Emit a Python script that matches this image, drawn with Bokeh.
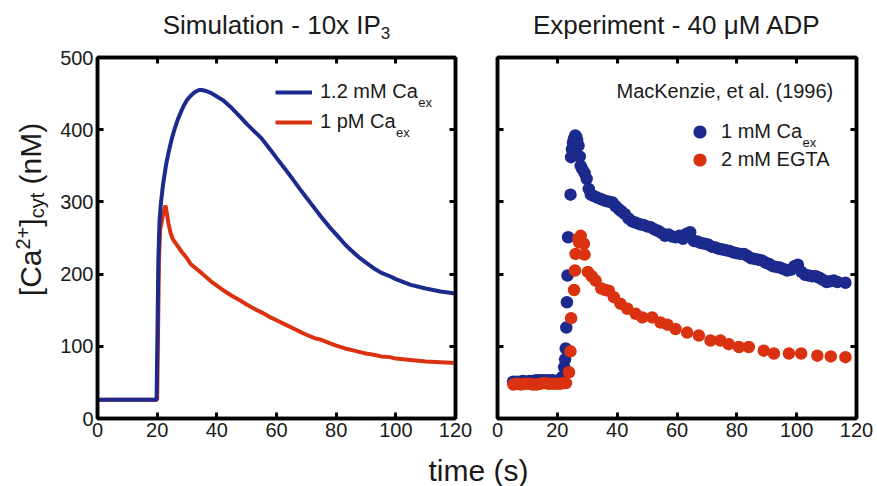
import math
from bokeh.plotting import figure
from bokeh.models import Range1d, LinearAxis, FixedTicker, Label, Legend, LegendItem
from bokeh.layouts import row, column
from bokeh.embed import file_html
from bokeh.resources import INLINE

# ---------------- data ----------------
sim_t_high = [0, 19.8, 20.1, 20.4, 20.8, 21.3, 22, 23, 24, 25, 26, 27, 28, 29, 30, 31, 32, 33, 34, 35,
              36, 38, 40, 42, 45, 48, 50, 53, 55, 58, 60, 63, 65, 68, 70, 73, 75, 78, 80, 83, 85, 88,
              90, 93, 95, 98, 100, 105, 110, 115, 120]
sim_ca_high = [26, 26, 120, 220, 275, 300, 325, 352, 372, 389, 403, 415, 425, 434, 441, 446, 450, 453, 455, 455,
               454, 451, 446, 441, 430, 417, 408, 396, 388, 372, 361, 345, 334, 317, 306, 290, 279, 264, 255, 241,
               233, 222, 216, 207, 202, 197, 193, 185, 180, 176, 173]

sim_t_low = [0, 20.0, 20.3, 20.6, 21.0, 22.0, 22.8, 23.3, 23.8, 24.5, 25.3, 26, 27, 28, 30, 31.2, 35, 38, 40,
             42, 45, 48, 50, 53, 55, 58, 60, 63, 65, 68, 70, 73, 75, 78, 80, 83, 85, 88, 90, 93, 95, 98,
             100, 105, 110, 115, 120]
sim_ca_low = [26, 26, 120, 220, 262, 283, 295, 283, 270, 257, 248, 244, 238, 232, 222, 214, 201, 190, 184,
              178, 170, 163, 158, 151, 147, 140, 136, 130, 126, 120, 116, 111, 109, 104, 101, 97, 95, 92, 90, 88, 86, 85,
              83, 81, 79, 78, 77]

exp_t_ca = [5.2, 6.3, 7.4, 8.5, 9.6, 10.7, 11.8, 12.9, 14.0, 15.1, 16.2, 17.3, 18.4, 19.5, 20.6, 21.5,
            22.3, 22.6, 22.8, 23.0, 23.2, 23.4, 23.6, 24.4, 24.6, 24.9, 25.2, 25.6, 26.0, 26.3, 26.6, 27.1,
            27.5, 27.8, 28.4, 29.1, 29.8, 30.5, 31.2, 32.2, 33.3, 34.5, 35.6, 36.6, 37.6, 38.5, 39.5, 40.5,
            41.4, 42.6, 43.8, 45.0, 46.3, 47.6, 48.8, 50.0, 51.2, 52.4, 53.6, 54.8, 56.0, 57.2, 58.4, 59.6,
            60.8, 62.0, 63.2, 64.4, 65.6, 66.8, 68.0, 69.2, 70.4, 71.6, 72.8, 74.0, 75.2, 76.4, 77.6, 78.8,
            80.0, 81.2, 82.4, 83.6, 84.8, 86.0, 87.2, 88.4, 89.6, 90.8, 92.0, 93.2, 94.4, 95.6, 96.8, 98.0,
            99.2, 100.4, 101.6, 102.8, 104.0, 105.2, 106.4, 107.6, 108.8, 110.0, 111.2, 112.4, 113.6, 116.3]
exp_ca = [51, 51, 51, 52, 51, 52, 52, 53, 53, 53, 53, 53, 53, 52, 53, 57,
          71, 82, 97, 126, 161, 198, 251, 310, 362, 373, 382, 388, 392, 390, 386, 378,
          363, 350, 345, 340, 332, 318, 310, 308, 306, 304, 302, 301, 300, 299, 294, 290,
          287, 283, 277, 273, 271, 269, 268, 266, 265, 262, 260, 257, 253, 255, 252, 251,
          253, 249, 256, 258, 246, 245, 243, 242, 241, 238, 237, 235, 234, 233, 232, 230,
          229, 228, 228, 225, 222, 221, 220, 219, 216, 214, 211, 210, 209, 207, 205, 206,
          211, 213, 203, 199, 198, 197, 197, 195, 192, 189, 190, 191, 189, 188]

exp_t_egta = [5.3, 6.6, 7.9, 9.2, 10.5, 11.8, 13.1, 14.4, 15.7, 17.0, 18.3, 19.6, 20.9, 22.2, 22.9,
              23.9, 24.4, 24.6, 25.6, 25.9, 26.1, 27.0, 27.3, 27.8, 28.9, 29.1, 30.2, 31.5, 32.8, 34.7,
              36.0, 37.2, 38.9, 41.1, 43.4, 46.2, 48.4, 51.7, 54.5, 56.8, 59.5, 63.4, 67.3, 71.2, 74.5,
              77.3, 80.7, 84.0, 89.0, 92.4, 97.4, 101.5, 106.9, 111.4, 116.3]
exp_egta = [47, 48, 47, 48, 48, 47, 47, 48, 49, 48, 48, 48, 48, 49, 49,
            64, 93, 139, 178, 205, 228, 249, 244, 253, 242, 227, 203, 197, 191, 180,
            178, 177, 168, 159, 152, 145, 140, 140, 133, 130, 124, 119, 115, 108, 108,
            103, 99, 99, 94, 90, 90, 90, 87, 86, 85]

x_ticks = [0, 20, 40, 60, 80, 100, 120]
y_ticks = [0, 100, 200, 300, 400, 500]

# ---------------- style / layout ----------------
BLUE = "#1b2a8c"
RED = "#da3210"
TEXT = "#1a1a1a"
FONT = "Liberation Sans"

TOP_H = 46            # title strip
BOT_H = 40            # x-label strip
ROW_H = 486 - TOP_H - BOT_H
FRAME_TOP = 57
FRAME_BOTTOM = 418
YS_W = 50             # y-label strip
P1_W = 426
P2_W = 877 - YS_W - P1_W
P1_FRAME_X = 97
P2_FRAME_X = 497

WID = {' ': 278, '(': 333, ')': 333, '+': 584, ',': 278, '-': 333, '.': 278, '[': 278, ']': 278,
       'A': 667, 'C': 722, 'D': 722, 'E': 667, 'G': 778, 'I': 278, 'K': 667, 'M': 833, 'P': 667,
       'S': 667, 'T': 611, 'a': 556, 'c': 500, 'e': 556, 'i': 222, 'l': 222, 'm': 833, 'n': 556,
       'o': 556, 'p': 556, 'r': 333, 's': 500, 't': 278, 'u': 556, 'x': 500, 'y': 500, 'z': 500,
       'μ': 576}
BASE_FIX = 0.27   # empirical baseline correction (fraction of font size)


def text_width(s, size):
    return sum(WID.get(c, 556) for c in s) / 1000.0 * size


def put_text(p, ox, ob, X, Y, text, size, angle=0.0, align="left"):
    """X, Y: page pixel position of the text anchor on its baseline.
    ox: page x of the frame's left edge, ob: page y of the frame's bottom edge."""
    fix = BASE_FIX * size
    if angle:
        X = X - fix
    else:
        Y = Y - fix
    p.add_layout(Label(x=X - ox, y=ob - Y, x_units="screen", y_units="screen", text=text,
                       text_font=FONT, text_font_size=f"{size}px", text_color=TEXT,
                       text_align=align, text_baseline="alphabetic", angle=angle))


def rich_h(p, ox, ob, segs, X, Y):
    total = sum(text_width(t, s) for t, s, _ in segs)
    x = X - total / 2
    for t, s, shift in segs:
        lead = len(t) - len(t.lstrip(' '))
        x += text_width(' ' * lead, s)
        t = t.lstrip(' ')
        put_text(p, ox, ob, x, Y - shift, t, s)
        x += text_width(t, s)


def rich_v(p, ox, ob, segs, X, Yc):
    total = sum(text_width(t, s) for t, s, _ in segs)
    y = Yc + total / 2
    for t, s, shift in segs:
        lead = len(t) - len(t.lstrip(' '))
        y -= text_width(' ' * lead, s)
        t = t.lstrip(' ')
        put_text(p, ox, ob, X - shift, y, t, s, angle=math.pi / 2)
        y -= text_width(t, s)


def strip(width, height):
    s = figure(width=width, height=height, x_range=Range1d(0, 1), y_range=Range1d(0, 1),
               output_backend="svg", toolbar_location=None, title=None,
               x_axis_type=None, y_axis_type=None, min_border=0)
    s.outline_line_color = None
    return s


def make_panel(width, left, right, ylabels):
    p = figure(width=width, height=ROW_H, x_range=Range1d(0, 120), y_range=Range1d(0, 500),
               output_backend="svg", toolbar_location=None, title=None,
               x_axis_type=None, y_axis_type=None,
               min_border_left=left, min_border_right=right,
               min_border_top=FRAME_TOP - TOP_H,
               min_border_bottom=TOP_H + ROW_H - FRAME_BOTTOM)
    for side in ["below", "left", "above", "right"]:
        ticks = x_ticks if side in ("below", "above") else y_ticks
        ax = LinearAxis(ticker=FixedTicker(ticks=ticks), axis_line_width=3.5, axis_line_color="black",
                        major_tick_in=6, major_tick_out=0, major_tick_line_width=3,
                        major_tick_line_color="black", minor_tick_line_color=None,
                        major_label_text_font=FONT, major_label_text_font_size="20px",
                        major_label_text_color=TEXT)
        shown = side == "below" or (side == "left" and ylabels)
        if shown:
            ax.major_label_standoff = 4
        else:
            ax.major_label_overrides = {t: "" for t in ticks}
            ax.major_label_text_font_size = "0px"
            ax.major_label_standoff = 0
        p.add_layout(ax, side)
    p.outline_line_color = "black"
    p.outline_line_width = 3.5
    return p


def add_legend(p, renderer, label, page_left, center_y, frame_x, gw, gh, standoff):
    lg = Legend(items=[LegendItem(label=label, renderers=[renderer])],
                location=(int(round(page_left - frame_x)),
                          int(round(FRAME_BOTTOM - (center_y + gh / 2)))),
                padding=0, margin=0, spacing=0, border_line_color=None,
                background_fill_alpha=0, glyph_width=gw, glyph_height=gh,
                label_standoff=standoff, label_height=gh, label_text_font=FONT,
                label_text_font_size="20px", label_text_color=TEXT)
    p.add_layout(lg)
    return page_left + gw + standoff


# ---------------- left panel: simulation ----------------
p1 = make_panel(P1_W, P1_FRAME_X - YS_W, YS_W + P1_W - 455, True)
r_low = p1.line(sim_t_low, sim_ca_low, line_width=4, line_color=RED)
r_high = p1.line(sim_t_high, sim_ca_high, line_width=4, line_color=BLUE)

tx = add_legend(p1, r_high, "1.2 mM Ca", 275, 92, P1_FRAME_X, 37, 22, 8)
put_text(p1, P1_FRAME_X, FRAME_BOTTOM, tx + text_width("1.2 mM Ca", 20), 92 + 14, "ex", 13)
tx = add_legend(p1, r_low, "1 pM Ca", 275, 122, P1_FRAME_X, 37, 22, 8)
put_text(p1, P1_FRAME_X, FRAME_BOTTOM, tx + text_width("1 pM Ca", 20), 122 + 14, "ex", 13)

# ---------------- right panel: experiment ----------------
p2 = make_panel(P2_W, P2_FRAME_X - (YS_W + P1_W), 877 - 856, False)
r_ca = p2.scatter(exp_t_ca, exp_ca, size=12.5, fill_color=BLUE, line_color=None)
r_egta = p2.scatter(exp_t_egta, exp_egta, size=12.5, fill_color=RED, line_color=None)

put_text(p2, P2_FRAME_X, FRAME_BOTTOM, 616, 96, "MacKenzie, et al. (1996)", 20)
tx = add_legend(p2, r_ca, "1 mM Ca", 683, 131, P2_FRAME_X, 33, 33, 5)
put_text(p2, P2_FRAME_X, FRAME_BOTTOM, tx + text_width("1 mM Ca", 20), 131 + 15, "ex", 13)
add_legend(p2, r_egta, "2 mM EGTA", 683, 159, P2_FRAME_X, 33, 33, 5)

# ---------------- strips for titles and axis titles ----------------
top = strip(877, TOP_H)
rich_h(top, 0, TOP_H, [("Simulation - 10x IP", 26, 0), ("3", 17, -5)], 276, 32)
rich_h(top, 0, TOP_H, [("Experiment - 40 μM ADP", 26, 0)], 676.5, 32)

ys = strip(YS_W, ROW_H)
rich_v(ys, 0, TOP_H + ROW_H,
       [("[Ca", 30, 0), ("2+", 20, 10), ("]", 30, 0), ("cyt", 20, -4), (" (nM)", 30, 0)], 38, 237)

bot = strip(877, BOT_H)
put_text(bot, 0, 486, 478, 478, "time (s)", 30, align="center")

layout = column(top, row(ys, p1, p2, spacing=0), bot, spacing=0)
open("out.html", "w").write(file_html(layout, INLINE))
